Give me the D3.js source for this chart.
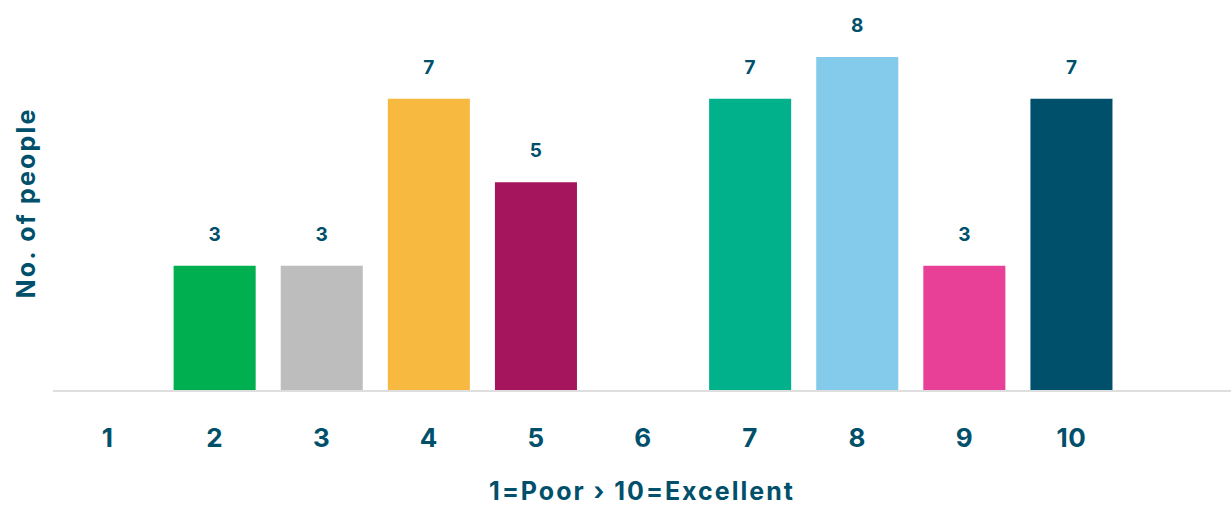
<!DOCTYPE html>
<html>
<head>
<meta charset="utf-8">
<script src="https://cdn.jsdelivr.net/npm/d3@7"></script>
<style>
  html, body { margin: 0; padding: 0; background: #fff; }
  svg { display: block; font-family: Inter, "Open Sans", sans-serif; }
</style>
</head>
<body>
<svg id="chart" width="1231" height="506"></svg>
<script>
// Ratings 1..10 and how many people gave each score
const categories = ["1", "2", "3", "4", "5", "6", "7", "8", "9", "10"];
const counts = [0, 3, 3, 7, 5, 0, 7, 8, 3, 7];
const barColors = ["#00b050", "#00b050", "#bdbdbd", "#f8b940", "#a5155d",
                   "#00b18b", "#00b18b", "#84cbeb", "#e84096", "#00506b"];
const xTitle = "1=Poor \u203A 10=Excellent";
const yTitle = "No. of people";

const ink = "#00506b";
const svg = d3.select("#chart");

const baseY = 391;
const x = d3.scaleBand()
  .domain(categories)
  .range([54, 54 + 107.1 * categories.length])
  .paddingInner(0.234)
  .paddingOuter(0.117);

const y = d3.scaleLinear().domain([0, 8]).range([baseY, 57]);

// bars
svg.append("g").selectAll("rect")
  .data(categories.map((c, i) => ({ c, v: counts[i], col: barColors[i] })).filter(d => d.v > 0))
  .join("rect")
  .attr("x", d => x(d.c))
  .attr("y", d => y(d.v))
  .attr("width", x.bandwidth())
  .attr("height", d => y(0) - y(d.v))
  .attr("fill", d => d.col);

// value labels above bars
svg.append("g").selectAll("text")
  .data(categories.map((c, i) => ({ c, v: counts[i] })).filter(d => d.v > 0))
  .join("text")
  .attr("x", d => x(d.c) + x.bandwidth() / 2)
  .attr("y", d => y(d.v) - 25)
  .attr("text-anchor", "middle")
  .attr("fill", ink)
  .attr("font-size", 19)
  .attr("font-weight", 700)
  .text(d => d.v);

// baseline
svg.append("line")
  .attr("x1", 53).attr("x2", 1231)
  .attr("y1", baseY).attr("y2", baseY)
  .attr("stroke", "#dedede")
  .attr("stroke-width", 2);

// category axis
const xAxis = d3.axisBottom(x).tickSize(0).tickPadding(0);
const gx = svg.append("g")
  .attr("transform", `translate(0, ${baseY})`)
  .call(xAxis);
gx.select(".domain").remove();
gx.selectAll("text")
  .attr("dy", 0)
  .attr("y", 56)
  .attr("fill", ink)
  .attr("font-size", 26)
  .attr("font-weight", 700)
  .attr("letter-spacing", 0.5)
  .attr("font-family", "Inter, sans-serif");

// axis titles
svg.append("text")
  .attr("x", 642).attr("y", 500)
  .attr("text-anchor", "middle")
  .attr("fill", ink)
  .attr("font-size", 25)
  .attr("font-weight", 700)
  .attr("letter-spacing", 2)
  .text(xTitle);

svg.append("text")
  .attr("transform", "translate(35, 203) rotate(-90)")
  .attr("text-anchor", "middle")
  .attr("fill", ink)
  .attr("font-size", 25)
  .attr("font-weight", 700)
  .attr("letter-spacing", 2.2)
  .text(yTitle);
</script>
</body>
</html>
